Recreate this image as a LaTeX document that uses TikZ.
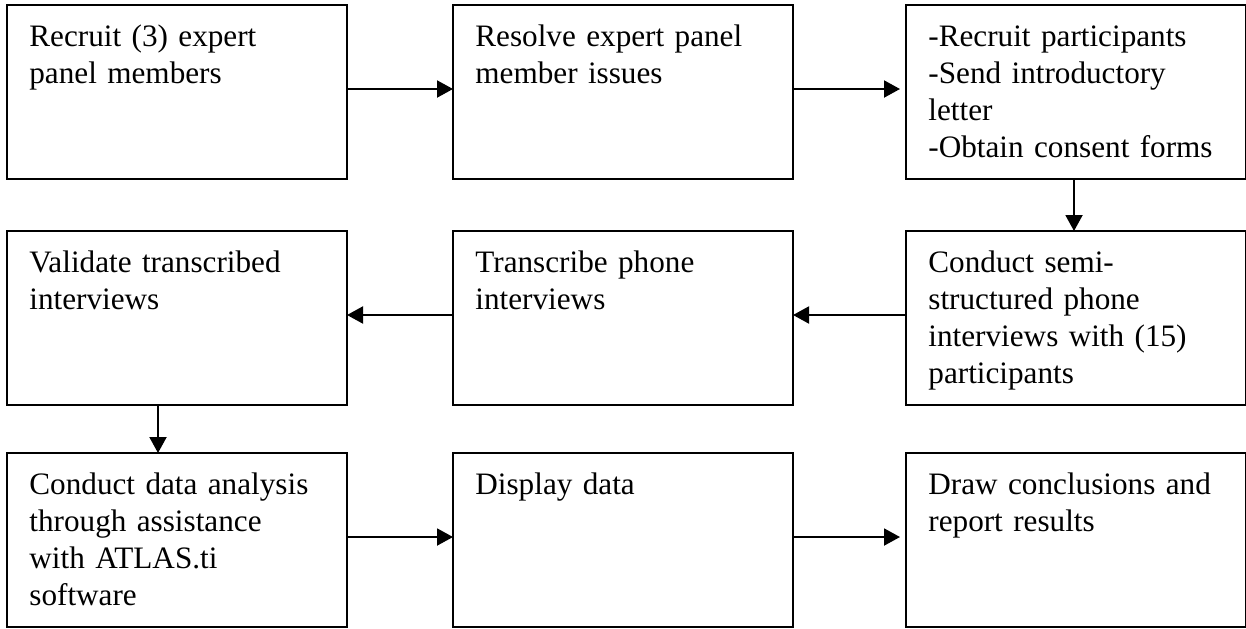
\documentclass[tikz,border=0pt]{standalone}
\usepackage{fontspec}
\setmainfont{Liberation Serif}
\usetikzlibrary{positioning,arrows.meta}

\begin{document}
\begin{tikzpicture}
[stage/.style={draw, line width=1pt, minimum width=170pt,
               minimum height=87pt, inner sep=0pt, outer sep=0pt},
 words/.style={anchor=north west, inner sep=0pt, text width=155pt,
               align=left, font=\fontsize{15.6}{18.5}\selectfont},
 flow/.style={line width=1pt, -{Triangle[length=8pt,width=8.5pt]}}]
\useasboundingbox (0,0) rectangle (623pt,-314pt);
% top row
\node[stage] (recruit) at (88.5pt,-46pt) {};
\node[stage, right=53pt of recruit] (resolve) {};
\node[stage, right=56.5pt of resolve] (consent) {};
% middle row
\node[stage, below=26pt of consent] (conduct) {};
\node[stage, below=26pt of resolve] (transcribe) {};
\node[stage, below=26pt of recruit] (validate) {};
% bottom row
\node[stage, below=24pt of validate] (analyse) {};
\node[stage, below=24pt of transcribe] (display) {};
\node[stage, below=24pt of conduct] (conclude) {};

% texts
\node[words] (recruit-t) at ([xshift=11pt,yshift=-7.5pt]recruit.north west)
  {\strut Recruit (3) expert\\panel members};
\node[words] (resolve-t) at ([xshift=11pt,yshift=-7.5pt]resolve.north west)
  {\strut Resolve expert panel\\member issues};
\node[words] (consent-t) at ([xshift=11pt,yshift=-7.5pt]consent.north west)
  {\strut -Recruit participants\\-Send introductory\\letter\\-Obtain consent forms};
\node[words] (conduct-t) at ([xshift=11pt,yshift=-7.5pt]conduct.north west)
  {\strut Conduct semi-\\structured phone\\interviews with (15)\\participants};
\node[words] (transcribe-t) at ([xshift=11pt,yshift=-7.5pt]transcribe.north west)
  {\strut Transcribe phone\\interviews};
\node[words] (validate-t) at ([xshift=11pt,yshift=-7.5pt]validate.north west)
  {\strut Validate transcribed\\interviews};
\node[words] (analyse-t) at ([xshift=11pt,yshift=-7.5pt]analyse.north west)
  {\strut Conduct data analysis\\through assistance\\with ATLAS.ti\\software};
\node[words] (display-t) at ([xshift=11pt,yshift=-7.5pt]display.north west)
  {\strut Display data};
\node[words] (conclude-t) at ([xshift=11pt,yshift=-7.5pt]conclude.north west)
  {\strut Draw conclusions and\\report results};

% arrows
\draw[flow] ([yshift=1.5pt]recruit.east) -- ([yshift=1.5pt]resolve.west);
\draw[flow, shorten >=3pt] ([yshift=1.5pt]resolve.east) -- ([yshift=1.5pt]consent.west);
\draw[flow] ([xshift=-1pt]consent.south) -- ([xshift=-1pt]conduct.north);
\draw[flow] ([yshift=1.5pt]conduct.west) -- ([yshift=1.5pt]transcribe.east);
\draw[flow] ([yshift=1.5pt]transcribe.west) -- ([yshift=1.5pt]validate.east);
\draw[flow] ([xshift=-9.5pt]validate.south) -- ([xshift=-9.5pt]analyse.north);
\draw[flow] ([yshift=1.5pt]analyse.east) -- ([yshift=1.5pt]display.west);
\draw[flow, shorten >=3pt] ([yshift=1.5pt]display.east) -- ([yshift=1.5pt]conclude.west);
\end{tikzpicture}
\end{document}
